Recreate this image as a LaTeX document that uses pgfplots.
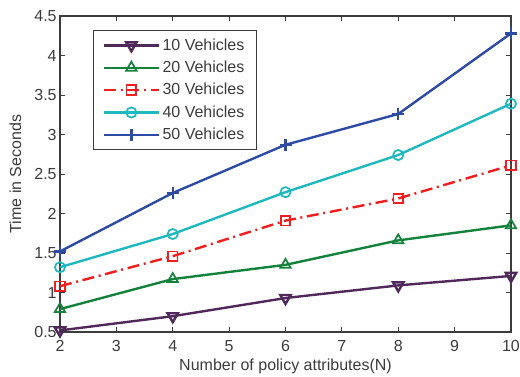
\documentclass[border=0pt]{standalone}
\usepackage{fontspec}
\setmainfont{Liberation Sans}
\usepackage{pgfplots}
\pgfplotsset{compat=1.18}
\definecolor{cpurple}{RGB}{80,40,90}
\definecolor{cgreen}{RGB}{20,130,60}
\definecolor{cred}{RGB}{240,30,30}
\definecolor{ccyan}{RGB}{30,185,190}
\definecolor{cblue}{RGB}{45,75,165}
\definecolor{txt}{RGB}{60,60,60}
\begin{document}
\begin{tikzpicture}
\useasboundingbox (0pt,0pt) rectangle (390pt,282pt);
\begin{axis}[
  at={(45pt,33pt)}, anchor=south west,
  scale only axis, width=338.25pt, height=237pt,
  xmin=2, xmax=10, ymin=0.5, ymax=4.5,
  xtick={2,3,...,10}, ytick={0.5,1,...,4.5},
  yticklabels={0.5,1,1.5,2,2.5,3,3.5,4,4.5},
  tick align=inside, major tick length=4pt,
  axis line style={txt, line width=0.9pt},
  every tick/.style={txt, line width=0.6pt},
  tick label style={font=\fontsize{12}{14}\selectfont, text=txt},
  xticklabel style={yshift=-3pt},
  yticklabel style={xshift=1pt},
  /pgf/number format/assume math mode=true,
  xlabel={Number of policy attributes(N)},
  ylabel={Time in Seconds},
  label style={font=\fontsize{12}{14}\selectfont, text=txt},
  xlabel style={yshift=2pt},
  ylabel style={yshift=3pt},
  legend style={at={(0.073,0.956)}, anchor=north west, draw=txt, line width=0.9pt,
    font=\fontsize{12}{14}\selectfont, text=txt, row sep=2.6pt, inner ysep=4pt, inner xsep=7pt},
  legend cell align=left,
  legend image code/.code={
    \draw[line width=1.8pt, mark repeat=2, mark phase=2] plot coordinates {(0cm,0cm) (0.72cm,0cm) (1.44cm,0cm)};
  },
  every axis plot/.append style={line width=1.8pt, mark options={solid, line width=1.3pt, fill=white}},
]
\addplot[cpurple, mark=triangle, mark size=4.5pt, mark options={rotate=180}] coordinates {(2,0.52) (4,0.70) (6,0.93) (8,1.09) (10,1.21)};
\addlegendentry{10 Vehicles}
\addplot[cgreen, mark=triangle, mark size=4.5pt] coordinates {(2,0.79) (4,1.17) (6,1.35) (8,1.66) (10,1.85)};
\addlegendentry{20 Vehicles}
\addplot[cred, dash pattern=on 9pt off 3.5pt on 1.5pt off 3.5pt, mark=square, mark size=3.6pt] coordinates {(2,1.08) (4,1.46) (6,1.91) (8,2.19) (10,2.61)};
\addlegendentry{30 Vehicles}
\addplot[ccyan, mark=o, mark size=3.8pt] coordinates {(2,1.32) (4,1.74) (6,2.27) (8,2.74) (10,3.39)};
\addlegendentry{40 Vehicles}
\addplot[cblue, mark=+, mark size=4.5pt, mark options={line width=1.7pt}] coordinates {(2,1.52) (4,2.26) (6,2.87) (8,3.26) (10,4.28)};
\addlegendentry{50 Vehicles}
\end{axis}
\end{tikzpicture}
\end{document}
